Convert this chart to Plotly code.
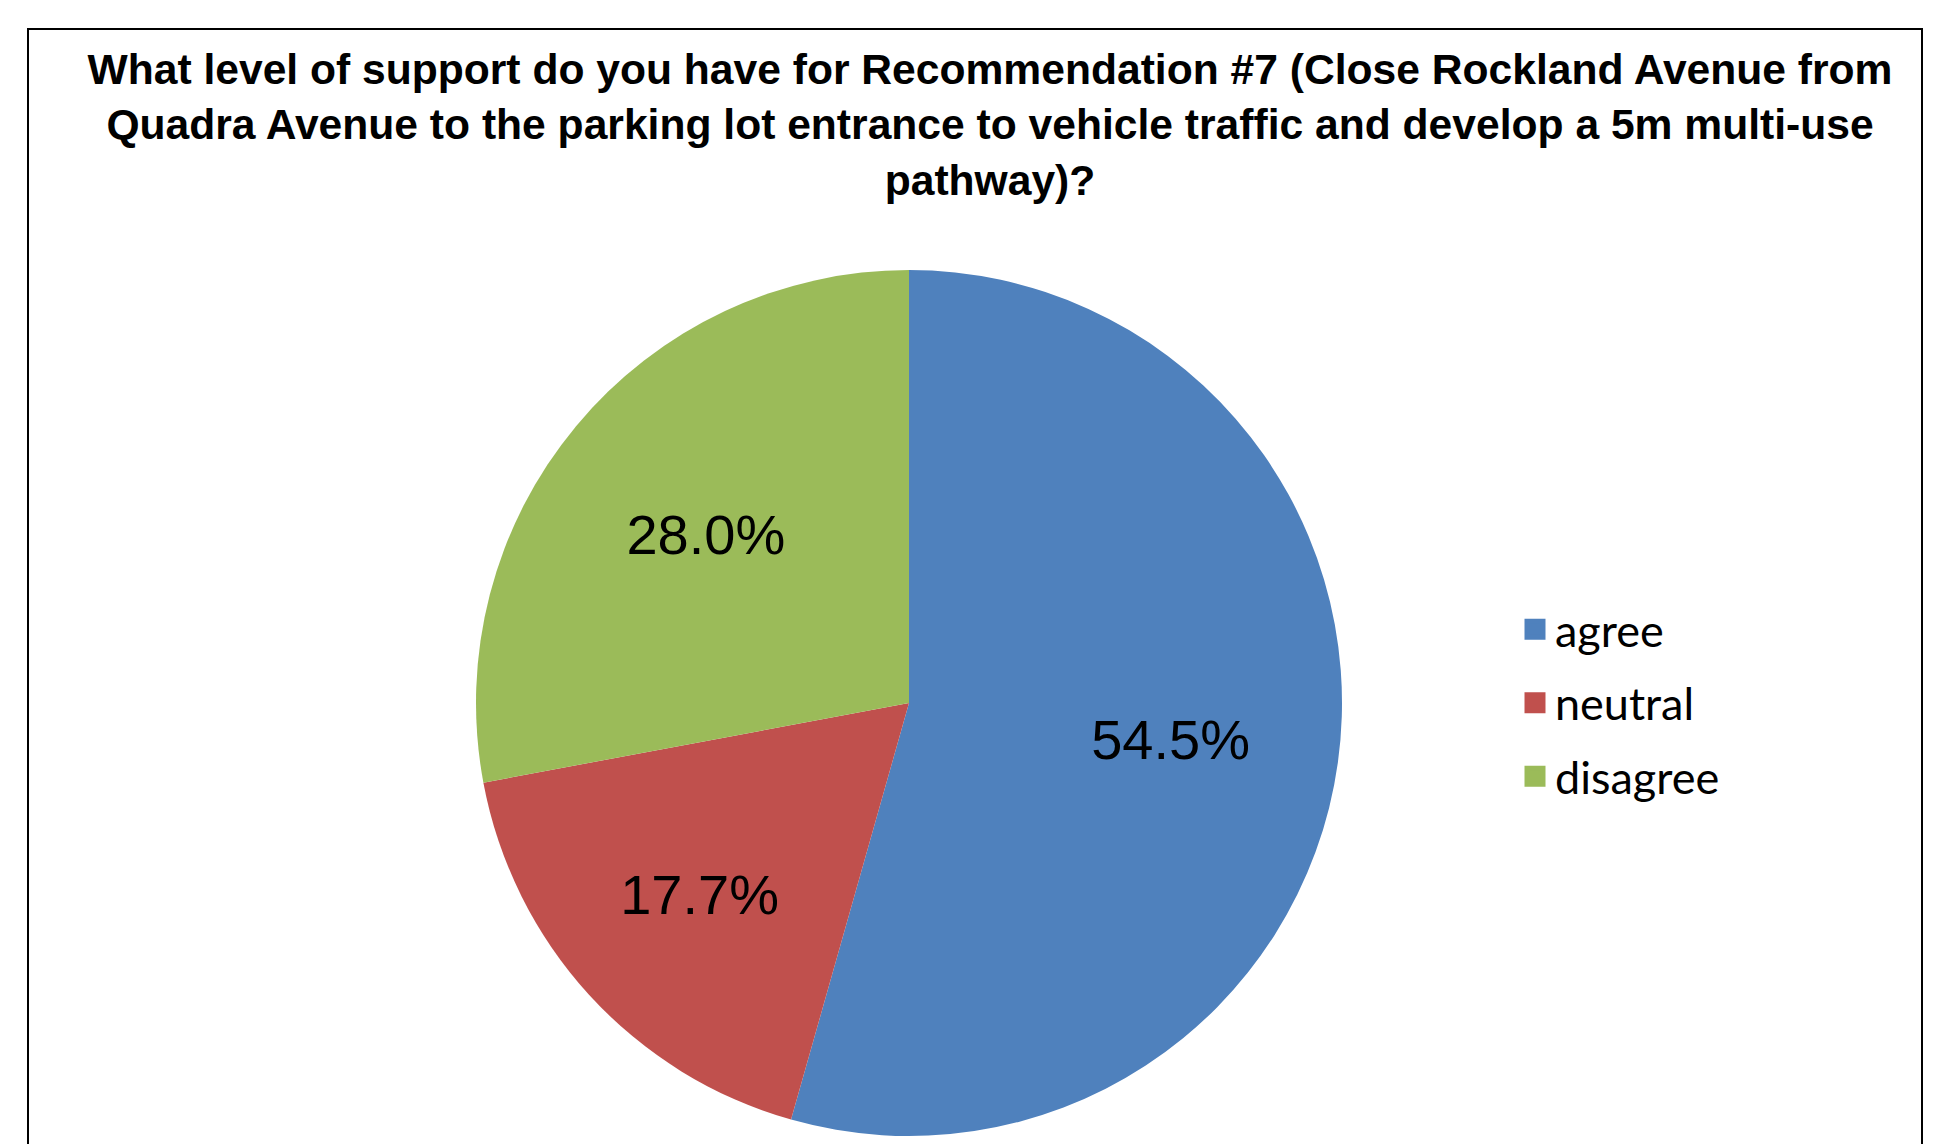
import plotly.graph_objects as go

# Data
categories = ["agree", "neutral", "disagree"]
percent_values = [54.5, 17.7, 28.0]
slice_colors = ["#4F81BD", "#C0504D", "#9BBB59"]
title_lines = [
    "What level of support do you have for Recommendation #7 (Close Rockland Avenue from",
    "Quadra Avenue to the parking lot entrance to vehicle traffic and develop a 5m multi-use",
    "pathway)?",
]

W, H = 1939, 1144
label_text = [f"{v:.1f}%" for v in percent_values]
pie_domain = dict(x=[(909 - 433) / W, (909 + 433) / W], y=[1 - 1136 / H, 1 - 270 / H])

fig = go.Figure()

# filled pie (no text)
fig.add_trace(
    go.Pie(
        labels=categories,
        values=percent_values,
        text=label_text,
        textinfo="none",
        hoverinfo="label+text",
        sort=False,
        direction="clockwise",
        rotation=0,
        marker=dict(colors=slice_colors, line=dict(width=0)),
        domain=pie_domain,
        showlegend=False,
    )
)

# transparent ring carrying the percentage labels a bit further out, as in the original
fig.add_trace(
    go.Pie(
        labels=categories,
        values=percent_values,
        text=label_text,
        textinfo="text",
        hoverinfo="skip",
        sort=False,
        direction="clockwise",
        rotation=0,
        hole=0.22,
        marker=dict(colors=["rgba(0,0,0,0)"] * 3, line=dict(width=0)),
        textposition="inside",
        insidetextorientation="horizontal",
        textfont=dict(family="Liberation Sans, Arial, sans-serif", size=56, color="black"),
        domain=pie_domain,
        showlegend=False,
    )
)

# legend entries
for i, (cat, col) in enumerate(zip(categories, slice_colors)):
    fig.add_trace(
        go.Scatter(
            x=[None],
            y=[None],
            mode="markers",
            name=cat,
            legendgroup=f"g{i}",
            marker=dict(symbol="square", size=16, color=col, line=dict(color=col, width=5)),
            showlegend=True,
        )
    )

fig.update_layout(
    width=W,
    height=H,
    margin=dict(l=0, r=0, t=0, b=0),
    paper_bgcolor="white",
    plot_bgcolor="white",
    xaxis=dict(visible=False),
    yaxis=dict(visible=False),
    title=dict(
        text="<br>".join(title_lines),
        x=990 / W,
        xanchor="center",
        xref="paper",
        y=1 - 84 / H,
        yanchor="top",
        yref="paper",
        font=dict(family="Liberation Sans, Arial, sans-serif", size=42.6, color="black", weight="bold"),
    ),
    showlegend=True,
    legend=dict(
        x=1515 / W,
        xanchor="left",
        y=1 - 703 / H,
        yanchor="middle",
        traceorder="grouped",
        tracegroupgap=12,
        font=dict(family="Lato, sans-serif", size=45, color="black"),
        bgcolor="rgba(0,0,0,0)",
    ),
    shapes=[
        dict(
            type="rect",
            xref="paper",
            yref="paper",
            x0=28 / W,
            x1=1922 / W,
            y0=-0.05,
            y1=1 - 29 / H,
            line=dict(color="black", width=2),
            fillcolor="rgba(0,0,0,0)",
            layer="below",
        )
    ],
)

fig.write_html(
    "out.html",
    config={"displayModeBar": False},
    post_script="document.body.style.margin='0';",
)
